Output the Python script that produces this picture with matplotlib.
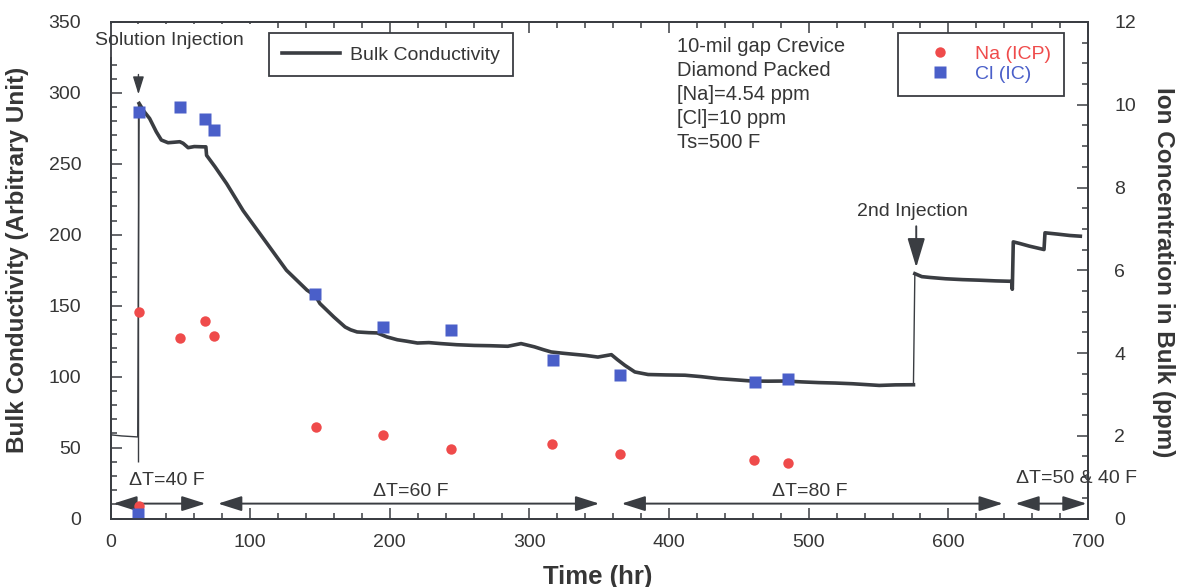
import numpy as np
import matplotlib as mpl
from matplotlib import pyplot as plt
from matplotlib.patches import FancyArrowPatch
from matplotlib.ticker import MultipleLocator

plt.rcParams['font.family'] = ['Liberation Sans', 'DejaVu Sans']

# Bulk conductivity (arbitrary unit) vs time (hr)
pre_t = [0, 8, 19.5]
pre_v = [59, 58.2, 57.5]

run1_t = [20.5, 24, 28, 32.8, 36.4, 41.2, 45, 49.6, 52, 55.6, 60, 66.4, 68.3, 68.8,
          74.8, 83.2, 95, 112, 126, 140.7, 146.7, 150, 160, 168, 172, 176.6, 185,
          191, 198, 205.4, 212, 219.8, 228, 236.5, 248, 260.5, 272, 284.5, 294,
          303.6, 310, 315.6, 324, 332.4, 340, 349, 358.7, 363, 368.3, 375.5, 385,
          398, 411.4, 423, 435.4, 447, 459.4, 471, 483.3, 495, 507.3, 519, 531.3,
          541, 550.5, 562, 575]
run1_v = [292.6, 287, 282, 272.6, 266.8, 264.9, 265.2, 265.6, 264.5, 261.4, 262.2,
          262, 262, 256, 248, 236, 217, 194, 175, 161, 157, 151.5, 142, 135, 133,
          131.5, 131, 130.8, 128, 126, 125, 123.7, 124, 123.3, 122.5, 122, 121.8,
          121.4, 123.3, 121, 119, 117.4, 116.5, 115.7, 115, 113.8, 115.5, 112, 108,
          103.3, 101.5, 101.2, 101, 100, 98.6, 97.8, 96.9, 96.8, 96.9, 96.3, 95.8,
          95.5, 95, 94.4, 93.8, 94.2, 94.3]

run2_t = [576, 581, 587, 598, 610, 622, 634, 645.3, 645.8, 646.5, 651, 658, 668.5,
          669.2, 678, 687, 694.5]
run2_v = [172.6, 170.5, 169.9, 169, 168.4, 168, 167.5, 167.2, 161.6, 195, 193.9,
          192, 189.6, 201.4, 200.5, 199.5, 199]

# Ion analyses in the bulk (ppm)
na_t = [20.3, 20.3, 49.6, 67.6, 74.3, 147, 195.3, 244, 316, 365, 461, 485.3]
na_ppm = [4.99, 0.30, 4.37, 4.77, 4.41, 2.22, 2.02, 1.69, 1.80, 1.56, 1.42, 1.35]
cl_t = [20.3, 19.8, 49.6, 67.6, 74.3, 146.7, 195.3, 243.7, 316.8, 365.2, 461.3, 485.3]
cl_ppm = [9.82, 0.10, 9.94, 9.65, 9.40, 5.42, 4.63, 4.55, 3.82, 3.48, 3.30, 3.36]

# Temperature difference periods
dt_labels = ['\u0394T=40 F', '\u0394T=60 F', '\u0394T=80 F', '\u0394T=50 & 40 F']
dt_start = [2, 77, 366, 648]
dt_end = [68, 350, 639, 699]

inj_t = [19.5, 576]
conditions = '10-mil gap Crevice\nDiamond Packed\n[Na]=4.54 ppm\n[Cl]=10 ppm\nTs=500 F'

ink = '#3a3d42'
txt = '#363636'
red = '#ef4b4b'
blue = '#4a5fc9'

W, H = 1179, 587
fig = plt.figure(figsize=(W/100, H/100), dpi=100)
ax = fig.add_axes([110.5/W, 1-518.5/H, (1088-110.5)/W, (518.5-22)/H])
ax2 = ax.twinx()

# conductivity trace: thin through the injections, heavy for the measured runs
ax.plot(pre_t+run1_t+run2_t, pre_v+run1_v+run2_v, color=ink, lw=1.0)
ax.plot(run1_t, run1_v, color=ink, lw=2.6, solid_joinstyle='round', label='Bulk Conductivity')
ax.plot(run2_t, run2_v, color=ink, lw=2.6, solid_joinstyle='round')
ax.vlines(inj_t[0], 40, run1_v[0], color=ink, lw=1.0)

ax2.plot(na_t, na_ppm, 'o', color=red, ms=7.5, mec='none', label='Na (ICP)')
ax2.plot(cl_t, cl_ppm, 's', color=blue, ms=8.5, mec='none', label='Cl (IC)')

ax.set_xlim(0, 700)
ax.set_ylim(0, 350)
ax2.set_ylim(0, 12)

ax.xaxis.set_major_locator(MultipleLocator(100))
ax.xaxis.set_minor_locator(MultipleLocator(20))
ax.yaxis.set_major_locator(MultipleLocator(50))
ax.yaxis.set_minor_locator(MultipleLocator(10))
ax2.yaxis.set_major_locator(MultipleLocator(2))
ax2.yaxis.set_minor_locator(MultipleLocator(0.5))

for a in (ax, ax2):
	for s in a.spines.values():
		s.set_color(ink)
		s.set_linewidth(1.3)
	a.tick_params(which='both', direction='in', color=ink, width=1.1, labelsize=14, labelcolor=txt)
	a.tick_params(which='major', length=8)
	a.tick_params(which='minor', length=4.5)
ax.tick_params(which='both', top=True, right=False)
ax.tick_params(axis='y', pad=21)
ax.tick_params(axis='x', pad=11)
ax2.tick_params(which='both', left=False, top=False, bottom=False, pad=19)

# injection markers
ax.annotate('', xy=(inj_t[0]+0.5, 299), xytext=(inj_t[0]+0.5, 313),
	arrowprops=dict(arrowstyle='-|>,head_length=0.9,head_width=0.28', mutation_scale=12,
		color=ink, lw=1.0, shrinkA=0, shrinkB=0))
ax.text(42.5, 337, 'Solution Injection', fontsize=14, color=txt, ha='center', va='center',
	zorder=5, bbox=dict(fc='white', ec='none', pad=6))
ax.annotate('', xy=(inj_t[1]+1, 177), xytext=(inj_t[1]+1, 206),
	arrowprops=dict(arrowstyle='-|>,head_length=1.5,head_width=0.45', mutation_scale=12,
		color=ink, lw=1.4, shrinkA=0, shrinkB=0))
ax.text(574, 216.6, '2nd Injection', fontsize=14, color=txt, ha='center', va='center')

ax.text(405.5, 339.5, conditions, fontsize=14.5, color=txt, ha='left', va='top', linespacing=1.33)

# temperature difference spans
dt_text_pos = [(40, 27), (215, 19), (501, 19), (692, 28)]
for s, e, lab, (tx, ty) in zip(dt_start, dt_end, dt_labels, dt_text_pos):
	arr = FancyArrowPatch((s, 10.5), (e, 10.5), arrowstyle='<|-|>,head_length=1.45,head_width=0.46',
		mutation_scale=10, color=ink, lw=1.4, shrinkA=0, shrinkB=0)
	ax.add_patch(arr)
	ax.text(tx, ty, lab, fontsize=14, color=txt, ha='center', va='center')

leg1 = ax.legend(loc='upper left', bbox_to_anchor=(269.3/W, 1-33.3/H), bbox_transform=fig.transFigure,
	fontsize=14, frameon=True, fancybox=False, framealpha=1, edgecolor=ink, borderpad=0.65,
	handlelength=3.0, handletextpad=0.5, borderaxespad=0)
leg1.get_frame().set_linewidth(1.3)
for t in leg1.get_texts():
	t.set_color(txt)

leg2 = ax2.legend(loc='upper left', bbox_to_anchor=(898.3/W, 1-32.7/H), bbox_transform=fig.transFigure,
	fontsize=14, frameon=True, fancybox=False, framealpha=1, edgecolor=ink, borderpad=0.65,
	handlelength=3.0, handletextpad=0.3, labelspacing=0.12, borderaxespad=0, numpoints=1,
	labelcolor='markerfacecolor')
leg2.get_frame().set_linewidth(1.3)

fig.text(18/W, 1-260/H, 'Bulk Conductivity (Arbitrary Unit)', rotation=90, ha='center', va='center',
	fontsize=17.5, fontweight='bold', color=txt)
fig.text(1163/W, 1-272/H, 'Ion Concentration in Bulk (ppm)', rotation=270, ha='center', va='center',
	fontsize=17.5, fontweight='bold', color=txt)
fig.text(598/W, 1-577/H, 'Time (hr)', ha='center', va='center', fontsize=18.5, fontweight='bold', color=txt)

fig.savefig('out.png', dpi=100)
